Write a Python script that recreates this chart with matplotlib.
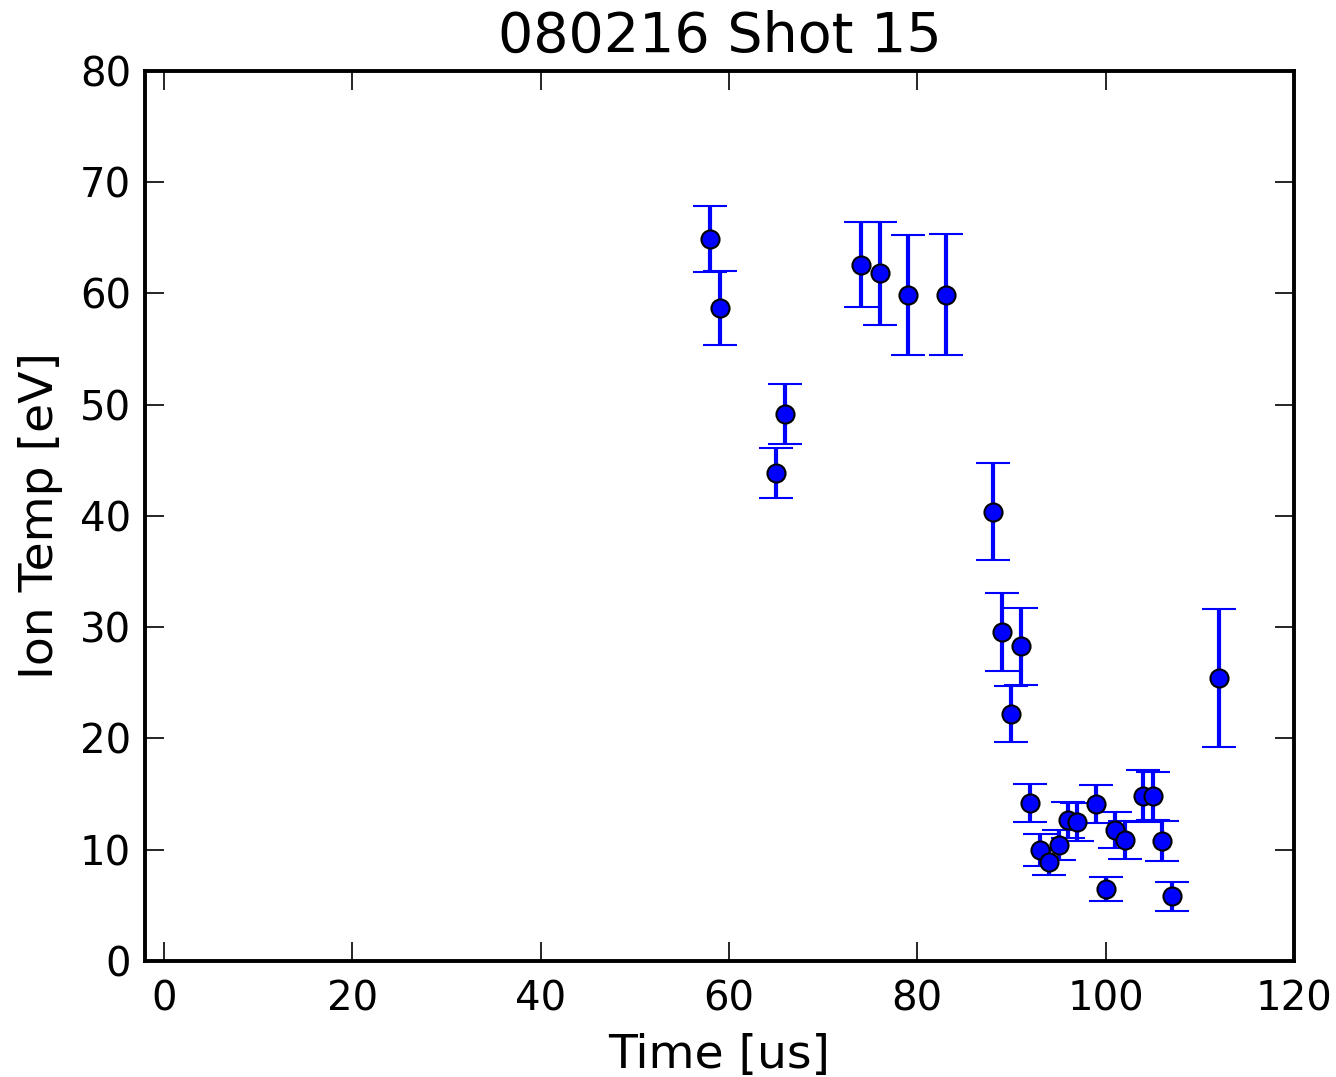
import numpy as np
import matplotlib
matplotlib.use("Agg")
import matplotlib.pyplot as plt

# time [us], ion temperature [eV] and error
time_us = [58, 59, 65, 66, 74, 76, 79, 83, 88, 89, 90, 91, 92, 93, 94, 95,
           96, 97, 99, 100, 101, 102, 104, 105, 106, 107, 112]
ion_temp = [64.9, 58.7, 43.9, 49.2, 62.6, 61.8, 59.9, 59.9, 40.4, 29.6, 22.2,
            28.3, 14.2, 10.0, 8.9, 10.4, 12.7, 12.5, 14.1, 6.45, 11.8, 10.9,
            14.8, 14.8, 10.8, 5.8, 25.4]
temp_err = [3.0, 3.3, 2.25, 2.7, 3.85, 4.65, 5.4, 5.45, 4.4, 3.5, 2.5, 3.45,
            1.7, 1.45, 1.2, 1.35, 1.6, 1.7, 1.7, 1.1, 1.6, 1.7, 2.35, 2.15,
            1.8, 1.3, 6.2]

fig = plt.figure(figsize=(13.36, 10.77), dpi=100)
ax = fig.add_axes([0.1085, 0.1077, 0.8601, 0.8264])

ax.errorbar(time_us, ion_temp, yerr=temp_err, fmt="o", color="blue",
            markerfacecolor="blue", markeredgecolor="black",
            markeredgewidth=1.5, markersize=13, ecolor="blue",
            elinewidth=3, capsize=12, capthick=2.5)

ax.set_xlim(-2, 120)
ax.set_ylim(0, 80)
ax.set_xticks(np.arange(0, 121, 20))
ax.set_yticks(np.arange(0, 81, 10))

ax.tick_params(direction="in", top=True, right=True, length=14, width=1.2,
               labelsize=29)
ax.tick_params(axis="x", pad=13)
ax.tick_params(axis="y", pad=10)
for spine in ax.spines.values():
    spine.set_linewidth(2.8)

ax.set_xlabel("Time [us]", fontsize=34, labelpad=10)
ax.set_ylabel("Ion Temp [eV]", fontsize=34, labelpad=12)
ax.set_title("080216 Shot 15", fontsize=40, pad=14)

fig.savefig("out.png", dpi=100)
